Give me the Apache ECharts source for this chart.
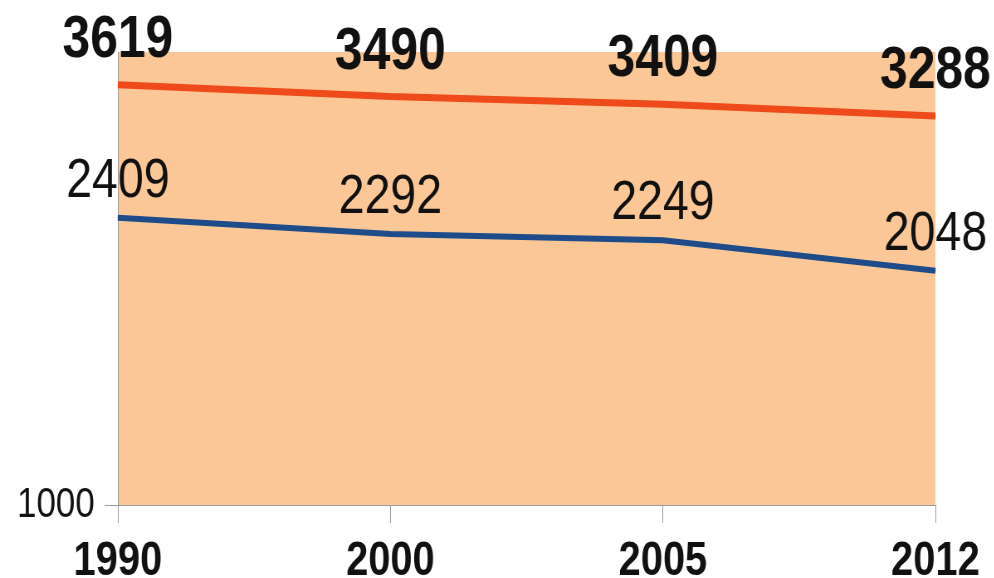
<!DOCTYPE html>
<html>
<head>
<meta charset="utf-8">
<script src="https://cdn.jsdelivr.net/npm/echarts@6/dist/echarts.min.js"></script>
<style>
  html, body { margin: 0; padding: 0; background: #fff; overflow: hidden; }
  /* 原图是横向压扁的，整体画宽一点再压回 994 */
  #chart { width: 1198px; height: 578px; transform: scaleX(0.83); transform-origin: 0 0; }
</style>
</head>
<body>
<div id="chart"></div>
<script>
// 年份
const years = ['1990', '2000', '2005', '2012'];
// 上面的红线
const redValues = [3619, 3490, 3409, 3288];
// 下面的蓝线
const blueValues = [2409, 2292, 2249, 2048];
// y 轴只显示 1000
const yTicks = [1000];

const font = '"Liberation Sans", Arial, sans-serif';

const chart = echarts.init(document.getElementById('chart'));
const option = {
  animation: false,
  grid: {
    left: 142,
    right: 71,
    top: 52,
    bottom: 73,
    outerBoundsMode: 'none',
    show: true,
    backgroundColor: '#FBC797',
    borderWidth: 0
  },
  xAxis: {
    type: 'category',
    boundaryGap: false,
    data: years,
    axisLine: { lineStyle: { color: '#9a9a9a', width: 1 } },
    axisTick: { show: true, alignWithLabel: true, length: 18, lineStyle: { color: '#9a9a9a' } },
    axisLabel: {
      margin: 33,
      fontFamily: font,
      fontWeight: 'bold',
      fontSize: 48,
      color: '#111'
    },
    splitLine: { show: false }
  },
  yAxis: {
    type: 'log',
    logBase: 10,
    min: 1000,
    max: 4000,
    axisLine: { show: true, lineStyle: { color: '#9a9a9a', width: 1 } },
    axisTick: { show: true, length: 16, customValues: yTicks, lineStyle: { color: '#9a9a9a' } },
    axisLabel: {
      customValues: yTicks,
      formatter: v => String(v),
      margin: 28,
      fontFamily: font,
      fontSize: 42,
      color: '#111'
    },
    splitLine: { show: false }
  },
  series: [
    {
      name: 'red',
      type: 'line',
      data: redValues,
      symbol: 'circle',
      symbolSize: 1,
      itemStyle: { color: '#EE4A1A' },
      lineStyle: { color: '#EE4A1A', width: 7 },
      label: {
        show: true,
        position: 'top',
        distance: 14,
        fontFamily: font,
        fontWeight: 'bold',
        fontSize: 60,
        color: '#111'
      }
    },
    {
      name: 'blue',
      type: 'line',
      data: blueValues,
      symbol: 'circle',
      symbolSize: 1,
      itemStyle: { color: '#1E4C8A' },
      lineStyle: { color: '#1E4C8A', width: 6 },
      label: {
        show: true,
        position: 'top',
        distance: 8,
        fontFamily: font,
        fontSize: 56,
        color: '#111'
      }
    }
  ]
};
chart.setOption(option);
</script>
</body>
</html>
